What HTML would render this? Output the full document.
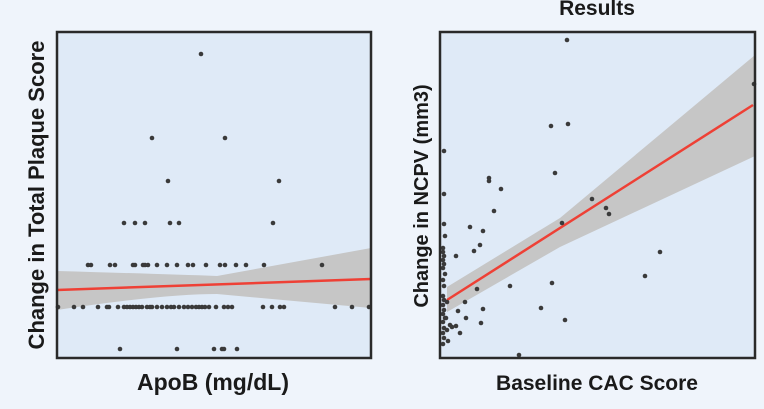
<!DOCTYPE html>
<html><head><style>
body{margin:0;background:#eff4fb;}
svg{display:block;font-family:"Liberation Sans",sans-serif;font-weight:bold;}
</style></head><body>
<svg width="764" height="409" viewBox="0 0 764 409">
<rect width="764" height="409" fill="#eff4fb"/>
<text x="597" y="15" font-size="21" text-anchor="middle" fill="#1a1a1a">Results</text>
<!-- left plot -->
<rect x="57" y="32" width="314" height="326" fill="#dfeaf7"/>
<path d="M57,271 Q163,274 217,276 L371,248 L371,308 L217,294 Q163,294 57,310 Z" fill="#c6c6c6"/>
<line x1="57" y1="290" x2="371" y2="279" stroke="#ee4035" stroke-width="2.5"/>
<g fill="#3a3a3a">
<circle cx="201" cy="54" r="2.3"/><circle cx="152" cy="138" r="2.3"/><circle cx="225" cy="138" r="2.3"/>
<circle cx="168" cy="181" r="2.3"/><circle cx="279" cy="181" r="2.3"/>
<circle cx="124" cy="223" r="2.3"/><circle cx="135" cy="223" r="2.3"/><circle cx="145" cy="223" r="2.3"/><circle cx="170" cy="223" r="2.3"/><circle cx="179" cy="223" r="2.3"/><circle cx="273" cy="223" r="2.3"/>
</g>
<g fill="#3a3a3a">
<circle cx="88" cy="265" r="2.3"/><circle cx="91" cy="265" r="2.3"/><circle cx="110" cy="265" r="2.3"/><circle cx="115" cy="265" r="2.3"/><circle cx="133" cy="265" r="2.3"/><circle cx="135" cy="265" r="2.3"/><circle cx="143" cy="265" r="2.3"/><circle cx="145" cy="265" r="2.3"/><circle cx="148" cy="265" r="2.3"/><circle cx="157" cy="265" r="2.3"/><circle cx="167" cy="265" r="2.3"/><circle cx="177" cy="265" r="2.3"/><circle cx="188" cy="265" r="2.3"/><circle cx="193" cy="265" r="2.3"/><circle cx="206" cy="265" r="2.3"/><circle cx="220" cy="265" r="2.3"/><circle cx="225" cy="265" r="2.3"/><circle cx="236" cy="265" r="2.3"/><circle cx="246" cy="265" r="2.3"/><circle cx="264" cy="265" r="2.3"/><circle cx="322" cy="265" r="2.3"/>
</g>
<g fill="#3a3a3a">
<circle cx="58" cy="307" r="2.3"/><circle cx="74" cy="307" r="2.3"/><circle cx="83" cy="307" r="2.3"/><circle cx="98" cy="307" r="2.3"/><circle cx="107" cy="307" r="2.3"/><circle cx="109" cy="307" r="2.3"/><circle cx="118" cy="307" r="2.3"/>
<circle cx="124" cy="307" r="2.3"/><circle cx="127" cy="307" r="2.3"/><circle cx="130" cy="307" r="2.3"/><circle cx="133" cy="307" r="2.3"/><circle cx="136" cy="307" r="2.3"/><circle cx="139" cy="307" r="2.3"/><circle cx="142" cy="307" r="2.3"/>
<circle cx="147" cy="307" r="2.3"/><circle cx="150" cy="307" r="2.3"/><circle cx="152" cy="307" r="2.3"/><circle cx="157" cy="307" r="2.3"/><circle cx="162" cy="307" r="2.3"/><circle cx="167" cy="307" r="2.3"/><circle cx="171" cy="307" r="2.3"/><circle cx="174" cy="307" r="2.3"/><circle cx="179" cy="307" r="2.3"/><circle cx="184" cy="307" r="2.3"/>
<circle cx="188" cy="307" r="2.3"/><circle cx="192" cy="307" r="2.3"/><circle cx="196" cy="307" r="2.3"/><circle cx="199" cy="307" r="2.3"/><circle cx="202" cy="307" r="2.3"/><circle cx="205" cy="307" r="2.3"/><circle cx="209" cy="307" r="2.3"/>
<circle cx="216" cy="307" r="2.3"/><circle cx="224" cy="307" r="2.3"/><circle cx="228" cy="307" r="2.3"/><circle cx="232" cy="307" r="2.3"/><circle cx="263" cy="307" r="2.3"/><circle cx="272" cy="307" r="2.3"/><circle cx="280" cy="307" r="2.3"/><circle cx="284" cy="307" r="2.3"/><circle cx="335" cy="307" r="2.3"/><circle cx="352" cy="307" r="2.3"/><circle cx="369" cy="307" r="2.3"/>
<circle cx="120" cy="349" r="2.3"/><circle cx="177" cy="349" r="2.3"/><circle cx="214" cy="349" r="2.3"/><circle cx="222" cy="349" r="2.3"/><circle cx="224" cy="349" r="2.3"/><circle cx="237" cy="349" r="2.3"/>
</g>
<rect x="57" y="32" width="314" height="326" fill="none" stroke="#2a2a2a" stroke-width="2.5"/>
<text x="213" y="390" font-size="23" text-anchor="middle" fill="#1a1a1a">ApoB (mg/dL)</text>
<text transform="translate(44,195) rotate(-90)" font-size="22" text-anchor="middle" fill="#1a1a1a">Change in Total Plaque Score</text>
<!-- right plot -->
<rect x="440" y="32" width="315" height="326" fill="#dfeaf7"/>
<path d="M447,287 L560,218 L755,55 L755,156 L560,247 L447,312 Z" fill="#c6c6c6"/>
<line x1="447" y1="300" x2="753" y2="105" stroke="#ee4035" stroke-width="2.5"/>
<g fill="#3a3a3a">
<circle cx="567" cy="40" r="2.3"/><circle cx="754" cy="84" r="2.3"/><circle cx="551" cy="126" r="2.3"/><circle cx="568" cy="124" r="2.3"/><circle cx="444" cy="151" r="2.3"/><circle cx="555" cy="173" r="2.3"/><circle cx="444" cy="194" r="2.3"/><circle cx="489" cy="178" r="2.3"/><circle cx="489" cy="181" r="2.3"/><circle cx="501" cy="189" r="2.3"/><circle cx="494" cy="211" r="2.3"/><circle cx="444" cy="224" r="2.3"/><circle cx="445" cy="236" r="2.3"/><circle cx="470" cy="227" r="2.3"/><circle cx="483" cy="231" r="2.3"/><circle cx="474" cy="251" r="2.3"/><circle cx="480" cy="245" r="2.3"/><circle cx="456" cy="256" r="2.3"/><circle cx="592" cy="199" r="2.3"/><circle cx="606" cy="208" r="2.3"/><circle cx="609" cy="214" r="2.3"/><circle cx="562" cy="223" r="2.3"/><circle cx="660" cy="252" r="2.3"/><circle cx="645" cy="276" r="2.3"/><circle cx="552" cy="283" r="2.3"/><circle cx="510" cy="286" r="2.3"/><circle cx="477" cy="289" r="2.3"/><circle cx="465" cy="302" r="2.3"/><circle cx="458" cy="311" r="2.3"/><circle cx="483" cy="309" r="2.3"/><circle cx="466" cy="318" r="2.3"/><circle cx="481" cy="323" r="2.3"/><circle cx="450" cy="325" r="2.3"/><circle cx="452" cy="327" r="2.3"/><circle cx="456" cy="326" r="2.3"/><circle cx="460" cy="333" r="2.3"/><circle cx="448" cy="341" r="2.3"/><circle cx="541" cy="308" r="2.3"/><circle cx="565" cy="320" r="2.3"/><circle cx="519" cy="355" r="2.3"/><circle cx="447" cy="302" r="2.3"/>
<circle cx="443" cy="248" r="2.3"/><circle cx="443" cy="252" r="2.3"/><circle cx="444" cy="256" r="2.3"/><circle cx="443" cy="260" r="2.3"/><circle cx="444" cy="264" r="2.3"/><circle cx="443" cy="268" r="2.3"/><circle cx="445" cy="274" r="2.3"/><circle cx="443" cy="280" r="2.3"/><circle cx="444" cy="286" r="2.3"/><circle cx="443" cy="296" r="2.3"/><circle cx="444" cy="300" r="2.3"/><circle cx="443" cy="305" r="2.3"/><circle cx="444" cy="310" r="2.3"/><circle cx="443" cy="314" r="2.3"/><circle cx="445" cy="318" r="2.3"/><circle cx="443" cy="322" r="2.3"/><circle cx="444" cy="328" r="2.3"/><circle cx="443" cy="333" r="2.3"/><circle cx="444" cy="338" r="2.3"/><circle cx="443" cy="344" r="2.3"/><circle cx="446" cy="318" r="2.3"/><circle cx="447" cy="330" r="2.3"/>
</g>
<rect x="440" y="32" width="315" height="326" fill="none" stroke="#2a2a2a" stroke-width="2.5"/>
<text x="597" y="390" font-size="21" text-anchor="middle" fill="#1a1a1a">Baseline CAC Score</text>
<text transform="translate(428,196) rotate(-90)" font-size="20" text-anchor="middle" fill="#1a1a1a">Change in NCPV (mm3)</text>
</svg>
</body></html>
